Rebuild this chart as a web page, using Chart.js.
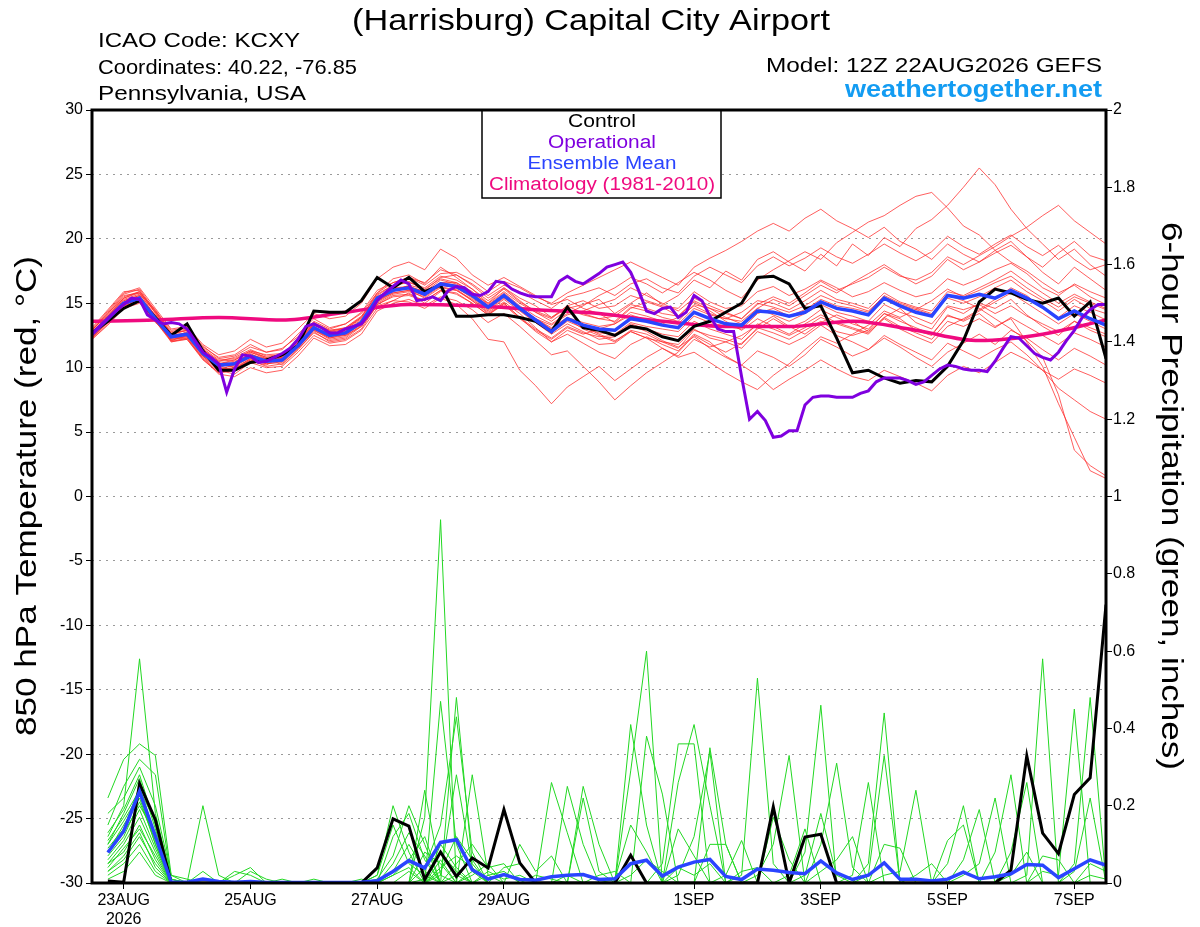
<!DOCTYPE html>
<html>
<head>
<meta charset="utf-8">
<title>KCXY GEFS</title>
<script src="https://cdn.jsdelivr.net/npm/chart.js@4.4.1/dist/chart.umd.min.js"></script>
<style>
  body { margin: 0; background: #fff; }
  #grafico { display: block; }
</style>
</head>
<body>
<canvas id="grafico" width="1200" height="927"></canvas>
<script>
// forecast hours from 12Z 22AUG2026 (6-hourly)
var hours6 = [0,6,12,18,24,30,36,42,48,54,60,66,72,78,84,90,96,102,108,114,120,126,132,138,144,150,156,162,168,174,180,186,192,198,204,210,216,222,228,234,240,246,252,258,264,270,276,282,288,294,300,306,312,318,324,330,336,342,348,354,360,366,372,378,384];
// operational run is 3-hourly
var opHours = [0,3,6,9,12,15,18,21,24,27,30,33,36,39,42,45,48,51,54,57,60,63,66,69,72,75,78,81,84,87,90,93,96,99,102,105,108,111,114,117,120,123,126,129,132,135,138,141,144,147,150,153,156,159,162,165,168,171,174,177,180,183,186,189,192,195,198,201,204,207,210,213,216,219,222,225,228,231,234,237,240,243,246,249,252,255,258,261,264,267,270,273,276,279,282,285,288,291,294,297,300,303,306,309,312,315,318,321,324,327,330,333,336,339,342,345,348,351,354,357,360,363,366,369,372,375,378,381,384];
var climHours = [0,24,48,72,96,120,144,168,192,216,240,264,288,312,336,360,384];

var tickHours = [12, 60, 108, 156, 228, 276, 324, 372];
var tickLabels = ['23AUG', '25AUG', '27AUG', '29AUG', '1SEP', '3SEP', '5SEP', '7SEP'];
var tickYear = '2026';

// 850 hPa temperature (C)
var controlTemp = [12.7,13.6,14.6,15.2,13.9, 12.5,13.4,11.3,9.8,9.8, 10.4,10.6,11.0,11.7,14.4, 14.3,14.3,15.2,17.0,16.2, 17.0,15.9,16.4,14.0,14.0, 14.1,14.1,13.9,13.6,12.8, 14.7,13.1,12.9,12.5,13.2, 13.0,12.4,12.1,13.2,13.6, 14.3,15.0,17.0,17.1,16.5, 14.6,14.8,12.3,9.6,9.8, 9.2,8.8,9.0,8.9,10.1, 12.1,15.1,16.1,15.8,15.3, 15.0,15.4,14.0,15.1,10.7];
var meanTemp = [12.6,13.8,15.0,15.4,13.8, 12.4,12.6,11.1,10.2,10.3, 10.9,10.5,10.6,11.7,13.1, 12.5,12.7,13.5,15.4,16.0, 16.2,15.7,16.5,16.3,15.6, 14.7,15.6,14.6,13.7,12.8, 13.8,13.3,13.0,12.9,13.8, 13.6,13.3,13.1,14.3,13.8, 13.4,13.3,14.4,14.3,14.0, 14.3,15.1,14.6,14.4,14.1, 15.4,14.8,14.3,14.0,15.6, 15.4,15.7,15.4,16.0,15.4, 14.7,13.8,14.4,13.8,13.3];
var opTemp = [12.6,13.2,13.8,14.4,14.9,15.4,15.3,14.1,13.7,13.4, 13.5,13.4,13.0,12.1,11.2,10.8,10.3,8.1,9.9,11.0, 10.9,10.4,10.5,10.8,11.1,11.5,12.2,13.2,13.4,13.1, 12.7,12.7,13.0,13.2,13.4,14.2,15.2,15.8,16.3,16.8, 16.5,15.2,15.3,15.5,15.2,16.0,16.3,16.2,15.7,15.6, 15.9,16.7,16.6,16.1,15.8,15.6,15.5,15.5,15.5,16.7, 17.1,16.7,16.5,16.9,17.3,17.8,18.0,18.2,17.4,16.0, 14.4,14.2,14.6,14.7,13.9,14.3,15.6,15.2,14.0,13.0, 12.8,12.8,9.3,6.0,6.6,5.9,4.6,4.7,5.1,5.1, 7.1,7.7,7.8,7.8,7.7,7.7,7.7,8.0,8.2,8.9, 9.2,9.2,9.2,9.0,8.7,8.9,9.4,9.9,10.2,10.1, 9.9,9.8,9.8,9.7,10.5,11.5,12.4,12.3,11.7,11.1, 10.8,10.6,11.2,12.1,12.9,13.9,14.5,14.9,14.9];
var climTemp = [13.6,13.7,13.9,13.7,14.3,14.9,14.8,14.5,14.2,13.6,13.2,13.2,13.6,12.9,12.1,12.6,13.7];

// ensemble members, temperature
var tempMembers = [
  [12.9,14.2,15.6,15.8,14.0, 12.0,12.2,10.6,9.6,9.8, 10.5,10.2,10.9,12.2,13.6, 13.0,13.4,14.2,15.8,16.9, 17.2,16.5,17.8,17.0,16.1, 15.0,16.2,15.4,14.8,13.9, 14.6,14.9,15.3,14.2,15.0, 15.8,14.9,15.6,16.8,16.2, 17.5,16.8,18.4,19.0,18.2, 17.5,18.8,17.9,19.6,18.7, 20.1,19.4,20.8,21.5,22.6, 24.0,25.5,24.2,22.3,20.8, 19.6,18.4,19.2,18.0,17.1],
  [12.4,13.5,14.8,15.2,13.5, 12.6,12.9,11.3,10.4,10.0, 11.2,10.8,10.2,11.4,12.8, 12.0,12.2,13.0,14.9,15.6, 15.7,15.2,16.0,15.8,15.0, 14.1,15.0,13.9,12.8,12.0, 12.9,12.4,11.8,11.9,12.8, 12.3,12.0,11.5,12.9,12.5, 12.2,11.8,13.1,12.7,12.2, 12.9,13.6,12.8,12.5,12.9, 14.2,13.8,12.9,12.5,14.1, 13.6,14.2,13.2,13.8,12.0, 10.1,7.2,4.6,2.0,1.4],
  [12.2,13.3,14.6,15.0,13.9, 12.8,13.0,11.7,10.7,10.9, 11.6,11.2,11.5,12.4,13.5, 12.6,12.5,13.2,14.8,15.2, 15.1,14.6,15.4,14.9,13.8, 12.2,12.0,9.8,8.6,7.2, 8.5,9.3,10.1,9.0,9.9, 10.8,11.5,10.9,12.2,11.6, 12.0,12.5,13.3,14.0,13.2, 12.6,13.5,14.1,13.6,12.8, 13.9,14.6,13.5,13.0,14.7, 14.2,15.0,14.6,15.3,14.1, 13.2,12.5,13.6,12.9,12.4],
  [13.0,14.4,15.8,16.2,14.6, 13.0,13.2,11.8,11.0,11.3, 12.2,11.6,11.9,13.0,14.2, 13.8,14.0,15.0,16.9,17.8, 18.2,17.6,19.2,18.5,17.2, 16.4,17.0,16.3,15.6,14.9, 15.3,14.6,14.2,13.5,14.6, 15.1,14.7,14.0,15.2,14.6, 13.9,13.4,14.6,15.3,14.8, 15.6,16.4,15.8,16.6,17.3, 18.0,17.2,16.5,17.1,18.4, 17.6,18.2,19.1,19.8,18.6, 17.4,16.5,17.8,16.9,16.0],
  [12.5,13.7,15.1,15.5,14.0, 12.2,12.4,10.9,9.8,9.5, 10.4,10.0,10.1,11.2,12.5, 11.9,12.1,12.9,14.6,15.2, 15.8,15.0,15.9,16.1,15.2, 14.3,15.1,14.2,13.1,12.0, 12.6,11.9,11.2,10.7,11.8, 12.4,11.8,11.3,12.6,12.0, 10.9,10.2,11.3,10.8,10.1, 11.0,12.2,11.6,10.9,11.4, 12.3,11.6,10.8,10.1,11.2, 11.9,12.6,11.8,12.9,12.3, 11.4,10.6,11.5,10.9,10.2],
  [12.8,14.0,15.3,15.7,14.3, 12.5,12.7,11.4,10.5,10.8, 11.4,10.9,11.0,12.0,13.3, 12.8,13.1,13.9,15.6,16.4, 16.7,16.0,17.0,17.2,16.5, 15.6,16.4,15.9,15.2,14.6, 15.5,15.8,16.2,15.6,16.5, 16.9,16.2,15.8,17.1,17.8, 17.2,16.6,17.9,18.6,17.9, 18.5,19.3,18.6,18.1,18.8, 19.6,18.9,18.3,19.0,20.2, 19.4,18.8,19.6,20.3,19.4, 18.7,19.5,18.4,17.6,18.0],
  [12.3,13.6,14.9,15.3,13.7, 12.1,12.5,11.0,10.1,10.4, 11.0,10.6,10.8,11.9,13.2, 12.4,12.6,13.4,15.2,15.9, 16.4,16.1,16.9,16.6,15.9, 14.9,15.8,14.8,14.0,13.4, 14.2,14.8,15.6,16.2,17.0, 16.5,15.8,16.6,17.4,16.8, 16.0,15.4,16.8,17.6,18.3, 19.0,18.4,19.7,20.5,21.3, 21.8,22.6,23.3,23.6,22.4, 21.0,20.3,19.1,18.2,17.5, 16.6,15.8,16.4,15.5,14.9],
  [12.6,13.9,15.2,15.6,13.9, 12.3,12.8,11.2,10.0,9.9, 10.6,10.3,10.4,11.5,12.9, 12.2,12.4,13.3,15.0,15.7, 15.9,15.5,16.3,16.0,15.3, 14.4,15.3,14.4,13.5,12.6, 13.4,12.8,12.2,12.4,13.3, 12.8,12.1,11.6,12.4,11.5, 10.8,10.2,9.4,8.3,9.1, 9.8,10.6,9.9,9.3,9.0, 9.8,9.3,8.8,8.2,9.4, 10.1,9.6,10.4,11.2,10.6, 9.8,9.1,9.9,9.4,8.8],
  [12.7,14.1,15.4,15.9,14.5, 12.7,12.9,11.5,10.6,10.7, 11.3,11.0,11.1,12.1,13.4, 12.9,13.0,13.8,15.5,16.2, 16.3,15.9,16.6,16.4,15.7, 14.8,15.7,14.7,13.8,13.0, 13.9,13.5,13.2,13.4,14.3, 14.0,13.6,13.4,14.6,14.1, 13.8,14.3,15.2,15.0,14.5, 15.2,16.0,15.3,15.0,14.6, 15.8,15.1,14.7,14.4,15.9, 15.6,16.2,16.8,17.5,16.6, 15.8,15.0,15.7,15.1,14.6],
  [12.5,13.8,15.0,15.3,13.6, 12.0,12.3,10.8,9.7,9.9, 10.7,10.4,10.6,11.8,13.0, 12.3,12.5,13.4,15.1,15.8, 16.0,15.6,16.4,16.2,15.5, 14.6,15.5,14.5,13.6,12.7, 13.6,13.1,12.7,12.6,13.5, 13.2,13.0,12.8,14.0,13.5, 13.2,13.0,14.2,14.6,14.0, 14.5,15.3,14.8,14.6,14.3, 15.6,15.0,14.6,14.2,15.6, 15.2,14.6,13.8,13.0,12.1, 10.8,7.9,3.6,2.4,1.6],
  [12.9,14.3,15.7,16.1,14.4, 12.6,12.6,11.2,10.3,10.6, 11.2,10.7,10.8,11.9,13.3, 12.7,13.0,13.9,15.8,16.6, 17.0,16.4,17.3,17.4,16.8, 15.9,16.7,16.2,15.5,15.0, 15.8,16.4,17.0,17.6,18.2, 17.6,17.0,16.4,17.8,18.5, 19.1,19.8,20.6,21.2,20.6, 21.6,22.3,21.4,20.8,20.1, 20.9,19.8,19.2,18.4,19.6, 18.8,18.2,18.9,19.5,18.6, 17.8,18.9,19.8,18.7,18.3],
  [12.2,13.4,14.7,15.1,13.6, 12.1,12.2,10.7,9.5,9.3, 10.0,9.6,9.8,10.9,12.3, 11.7,11.8,12.6,14.4,15.0, 15.3,14.8,15.5,15.2,14.5, 13.5,14.2,13.2,12.1,11.0, 11.3,10.1,8.9,7.5,8.6, 9.6,10.4,11.2,12.5,11.8, 11.2,11.9,13.0,13.8,13.1, 13.6,14.5,13.9,13.4,13.0, 14.2,13.6,13.1,12.6,14.0, 13.7,14.4,15.1,15.8,15.0, 14.2,13.4,14.2,13.6,13.0],
  [12.4,13.6,14.9,15.2,13.8, 12.4,12.6,11.1,10.2,10.1, 10.8,10.5,10.7,11.6,13.0, 12.5,12.8,13.6,15.3,16.0, 16.2,15.7,16.6,16.6,15.8, 15.0,15.9,15.0,14.3,13.6, 14.5,14.1,13.8,14.0,14.9, 14.6,14.2,14.0,15.1,14.4, 13.6,12.9,13.8,13.2,12.6, 13.4,14.1,13.5,13.1,12.7, 13.8,13.0,12.4,11.9,13.2, 13.8,14.5,15.3,16.2,15.6, 14.6,13.9,14.8,14.3,13.7],
  [13.1,14.5,15.9,16.0,14.2, 12.3,12.4,10.9,9.9,10.2, 10.9,10.6,10.9,12.0,13.4, 12.8,12.9,13.7,15.4,16.1, 16.3,15.8,16.5,16.2,15.4, 14.5,15.4,14.6,13.8,13.3, 14.1,14.4,14.9,15.3,16.2, 15.6,15.0,14.4,15.4,14.8, 14.3,13.8,14.9,15.5,15.0, 15.8,16.7,16.0,16.5,17.0, 17.8,17.1,16.8,17.4,18.6, 18.0,18.7,19.4,20.2,20.9, 21.8,22.6,21.4,20.5,19.6],
  [12.6,13.8,15.0,15.5,14.1, 12.5,12.6,11.0,10.0,10.4, 11.1,10.5,10.6,11.6,13.0, 12.4,12.7,13.5,15.3,16.0, 16.1,15.6,16.4,16.3,15.6, 14.7,15.6,14.5,13.5,12.8, 13.8,13.0,12.5,12.0,12.9, 12.6,12.0,11.8,13.0,12.3, 12.0,11.5,12.8,12.3,11.8, 12.4,13.3,12.5,12.0,11.4, 12.5,11.8,11.2,10.6,11.9, 11.3,10.7,11.4,12.0,11.0, 9.8,8.4,7.5,6.6,6.0],
  [12.8,14.0,15.4,15.8,14.4, 12.9,13.1,11.6,10.8,11.0, 11.8,11.2,11.4,12.6,13.8, 13.1,13.4,14.3,16.0,16.6, 17.0,16.6,17.6,17.2,16.4, 15.4,16.2,15.2,14.3,13.8, 14.8,15.2,14.6,14.8,15.6, 15.2,14.8,14.6,15.9,15.1, 14.6,14.8,15.9,16.3,15.6, 16.1,16.8,16.2,15.5,15.9, 16.6,16.0,15.5,15.8,16.9, 16.4,16.9,17.6,18.1,17.3, 16.2,15.6,16.5,15.9,15.4],
  [12.3,13.5,14.8,15.1,13.6, 12.2,12.3,10.7,9.6,9.8, 10.6,10.1,10.3,11.4,12.7, 12.1,12.3,13.2,14.9,15.5, 15.6,15.2,16.0,15.7,15.0, 14.1,14.9,13.8,12.9,12.2, 13.1,12.6,13.0,13.4,14.1, 13.7,13.4,13.9,14.8,14.2, 13.8,13.6,14.6,14.1,13.6, 14.2,14.9,14.3,14.0,13.6, 14.9,14.3,13.9,13.4,14.8, 14.5,14.9,14.2,14.8,14.0, 13.4,12.8,13.6,13.1,12.6],
  [12.7,14.0,15.2,15.6,14.0, 12.4,12.7,11.2,10.3,10.5, 11.0,10.7,10.7,11.8,13.1, 12.6,12.8,13.6,15.5,16.1, 16.3,15.9,16.8,16.5,15.8, 14.8,15.6,14.6,13.8,13.1, 13.9,13.2,12.6,12.1,12.8, 12.3,11.5,10.8,11.2,10.4, 9.6,8.9,8.3,9.4,10.3, 11.4,12.4,11.9,12.6,13.3, 14.4,13.9,14.5,15.2,16.1, 15.5,16.0,16.6,17.1,16.2, 15.4,14.7,15.5,15.0,14.5],
  [12.5,13.7,15.0,15.4,13.9, 12.3,12.5,11.0,9.9,10.0, 10.7,10.3,10.5,11.6,12.9, 12.3,12.6,13.4,15.2,15.8, 16.0,15.4,16.2,16.0,15.2, 14.2,15.0,13.9,13.0,12.3, 13.2,12.7,12.4,12.5,13.4, 13.0,12.6,12.4,13.6,13.0, 12.6,12.2,13.4,13.0,12.5, 13.1,13.9,13.4,13.0,12.6, 13.9,13.2,12.7,12.2,13.6, 13.2,13.8,13.1,13.9,13.2, 12.5,11.8,12.7,12.2,11.6],
  [12.9,14.2,15.5,15.9,14.3, 12.6,12.9,11.4,10.5,10.6, 11.3,10.8,11.0,12.1,13.5, 12.9,13.1,14.0,15.7,16.4, 16.6,16.2,17.1,16.8,16.1, 15.2,16.1,15.1,14.4,13.9, 14.8,14.2,13.8,13.6,14.7, 14.4,13.9,13.6,14.9,14.6, 14.2,13.8,15.0,14.7,14.3, 14.8,15.6,15.1,14.8,14.4, 15.5,14.9,14.5,14.1,15.4, 15.0,15.5,16.2,16.8,15.9, 15.2,14.4,15.3,14.6,14.2]
];

// 6-hour precipitation (inches), valid 6h..384h
var controlPrecip = [.005,.002,.257,.164,0,0,0,0, 0,0,0,0,0,0,0,0, 0,.039,.166,.147,.009,.080,.017,.065, .039,.190,.052,0,0,0,0,0, 0,.072,0,0,0,0,0,0, 0,0,.197,0,.119,.126,0,0, 0,0,0,0,0,0,0,0, 0,.033,.329,.129,.076,.229,.272,.72];
var meanPrecip = [.079,.134,.237,.121,.002,.002,.010,.004, .002,.004,.001,.001,.001,.001,.001,.001, .002,.006,.030,.058,.039,.105,.112,.034, .010,.022,.009,.007,.016,.020,.022,.009, .011,.050,.059,.018,.041,.054,.061,.017, .009,.036,.033,.027,.024,.057,.026,.009, .020,.052,.010,.010,.005,.010,.028,.011, .016,.024,.048,.046,.014,.037,.060,.046];

var precipMembers = [
  [.08,.15,.22,.10,0,0,0,0, 0,0,0,0,0,0,0,0, 0,0,.12,.18,.06,0,.02,0, 0,0,0,0,0,0,0,0, 0,.41,.15,0,0,0,0,0, 0,0,0,0,0,.10,.31,.04, 0,0,0,0,0,0,0,0, 0,0,0,0,0,.03,.22,0],
  [.12,.20,.58,.18,.01,0,0,0, 0,0,0,0,0,0,0,0, .01,0,.02,.04,0,0,.05,.10, .04,.05,0,0,0,0,0,0, 0,0,0,.05,.36,.36,0,0, 0,0,0,0,0,0,0,0, .02,.33,0,0,0,0,0,0, 0,0,0,0,0,0,0,0],
  [.05,.08,.15,.06,0,0,0,0, .02,.04,0,0,0,0,0,0, 0,0,0,0,.24,.02,0,0, 0,0,0,0,.26,.13,0,0, 0,0,0,0,0,0,0,.02, .11,0,0,0,0,0,0,0, 0,0,0,0,0,0,.02,.05, .22,0,0,0,0,0,0,0],
  [.22,.32,.36,.33,.02,.01,0,0, 0,0,0,0,0,0,0,0, 0,.02,.20,.08,0,0,0,.03, 0,0,0,0,0,0,.22,.03, 0,0,0,0,0,0,0,0, 0,0,0,.02,.14,0,0,0, 0,0,0,0,0,0,0,0, 0,0,0,.07,.06,0,0,0],
  [.03,.06,.12,.05,0,0,0,0, 0,0,0,0,0,.01,0,0, 0,0,0,0,.17,.94,0,0, 0,0,0,0,0,0,0,0, 0,.29,.60,0,0,0,0,0, 0,0,0,0,0,0,0,0, 0,.02,.03,.24,0,0,0,0, 0,0,0,0,0,0,0,0],
  [.10,.18,.27,.14,0,0,.20,.02, 0,0,0,0,0,0,0,0, 0,0,0,0,0,0,.48,.05, 0,0,0,0,0,0,0,0, 0,0,0,0,.26,.41,.20,0, 0,0,0,0,0,0,0,0, 0,0,0,0,0,.11,.15,0, 0,0,0,0,0,0,0,0],
  [.06,.11,.19,.09,0,0,0,0, 0,0,0,0,0,0,0,0, 0,0,0,0,0,.47,.10,0, 0,0,.10,.03,.07,0,0,0, 0,0,0,0,0,0,0,0, .02,.53,.05,0,0,0,0,0, 0,0,0,0,0,0,0,0, 0,.02,.08,0,0,0,0,0],
  [.15,.25,.32,.28,.01,0,0,0, 0,0,0,0,0,0,0,0, 0,.01,.07,.20,.10,0,0,0, 0,0,0,0,0,0,0,.02, .03,0,0,0,0,0,0,0, 0,0,0,0,.08,.46,0,0, 0,0,0,0,0,0,0,0, 0,0,0,0,0,0,.02,.01],
  [.02,.05,.10,.03,0,0,0,0, .03,.02,0,0,0,0,0,0, 0,0,0,0,.04,.15,.43,.08, 0,0,0,0,0,0,0,0, 0,0,.38,.23,0,0,0,0, 0,0,0,0,0,0,0,.02, .26,0,0,0,0,0,0,0, 0,0,0,.03,.02,.45,0,0],
  [.09,.14,.25,.12,0,0,0,0, 0,0,0,0,0,0,0,0, 0,0,0,.03,0,.06,0,.28, .02,0,0,0,0,0,0,0, 0,0,0,0,.14,.07,0,0, 0,0,0,0,0,0,0,0, 0,0,0,.02,.05,0,0,0, 0,0,0,0,0,0,0,0],
  [.18,.22,.30,.20,.02,0,.03,0, 0,0,0,0,0,0,0,0, 0,0,0,0,0,.02,.28,.04, 0,0,0,0,0,.25,.10,0, 0,0,0,0,0,0,0,0, 0,0,.17,.06,0,0,0,0, 0,0,0,0,0,0,0,0, 0,.08,.26,0,0,0,0,0],
  [.04,.09,.14,.07,0,0,0,0, 0,0,0,0,0,0,0,0, 0,.02,.15,.05,.02,0,0,0, 0,.04,.05,0,0,0,0,0, 0,0,0,0,0,0,.35,.10, 0,0,0,0,0,.03,.06,.12, 0,0,0,0,0,0,0,0, 0,0,0,0,0,0,0,0],
  [.07,.12,.21,.11,0,0,0,0, 0,.03,.01,0,0,0,0,0, 0,0,0,0,0,.10,.04,0, 0,0,0,0,0,0,0,0, .01,.15,.08,0,0,0,0,0, 0,0,0,0,0,0,0,0, .05,.44,0,0,0,0,0,0, 0,0,0,0,0,0,.05,.03],
  [.11,.17,.24,.16,.01,0,0,0, 0,0,0,0,0,0,0,0, 0,0,0,0,.08,.05,0,.02, .05,0,0,0,0,0,0,0, 0,0,0,0,.02,.12,.34,0, 0,0,0,0,0,0,0,0, 0,0,0,0,0,.05,.20,0, 0,0,0,0,0,0,0,0],
  [.01,.03,.08,.02,0,0,0,0, 0,0,0,0,0,0,0,0, 0,0,.03,.10,.03,0,0,0, 0,0,0,.02,.01,0,0,0, 0,0,0,0,0,0,0,0, 0,.02,.10,.33,0,0,0,0, 0,0,0,0,0,0,0,0, 0,0,0,0,0,0,0,0],
  [.13,.19,.28,.15,0,0,0,0, 0,0,0,.01,0,0,0,0, 0,0,0,0,0,.03,.12,.06, 0,0,0,0,0,0,.25,.10, 0,0,0,0,0,0,0,0, 0,0,0,0,.02,.18,.02,0, 0,0,0,0,0,0,0,0, 0,0,0,0,0,.05,.48,0],
  [.05,.10,.17,.08,0,0,0,0, 0,0,0,0,0,0,0,0, 0,0,.05,.13,.07,0,0,0, .02,.03,0,0,0,0,0,0, 0,0,0,0,0,0,.10,.10, 0,0,0,0,0,0,0,0, 0,.10,.09,0,0,0,0,0, 0,0,0,0,0,0,0,0],
  [.08,.13,.20,.13,0,0,0,0, 0,0,0,0,0,0,0,0, 0,0,0,0,.01,.08,.03,0, 0,0,0,0,0,0,0,0, 0,.02,.06,.03,0,0,0,0, 0,0,0,0,0,0,0,0, 0,0,0,0,0,0,.06,.19, 0,0,0,0,0,0,0,0],
  [.03,.07,.13,.04,0,0,0,0, 0,0,0,0,0,0,0,0, 0,0,.02,.06,.12,0,0,0, .03,.01,.02,0,0,0,0,0, 0,0,0,0,0,0,0,0, .03,.04,0,0,0,0,0,0, 0,0,0,0,0,0,0,0, 0,0,.02,.58,0,0,0,0],
  [.10,.16,.23,.10,0,0,0,0, 0,0,0,0,0,0,0,0, 0,0,0,0,0,.04,.07,.04, 0,0,0,0,0,.02,0,0, 0,0,0,0,.04,.02,.05,0, 0,0,0,0,0,0,0,0, 0,0,0,0,0,0,0,0, .08,.28,0,0,0,0,0,0]
];

var corTemp = 'rgba(255, 40, 40, 0.75)';
var corChuva = '#22d822';
var corControle = '#000000';
var corOperacional = '#7f00df';
var corMedia = '#2a44ff';
var corClima = '#ef0a7f';
var fonte = "'Liberation Sans', Arial, Helvetica, sans-serif";

function pontos(xs, ys) {
    var lista = [];
    for (var i = 0; i < ys.length; i++) {
        lista.push({ x: xs[i], y: ys[i] });
    }
    return lista;
}

var precipHours = hours6.slice(1);
var datasets = [];

// lowest order is drawn on top
datasets.push({ label: 'Operational', data: pontos(opHours, opTemp), yAxisID: 'y', borderColor: corOperacional, borderWidth: 3, order: 0 });
datasets.push({ label: 'Ensemble Mean', data: pontos(hours6, meanTemp), yAxisID: 'y', borderColor: corMedia, borderWidth: 3.5, order: 1 });
datasets.push({ label: 'Control', data: pontos(hours6, controlTemp), yAxisID: 'y', borderColor: corControle, borderWidth: 3, order: 2 });
datasets.push({ label: 'Climatology', data: pontos(climHours, climTemp), yAxisID: 'y', borderColor: corClima, borderWidth: 3.5, cubicInterpolationMode: 'monotone', order: 3 });
datasets.push({ label: 'Mean precip', data: pontos(precipHours, meanPrecip), yAxisID: 'y1', borderColor: corMedia, borderWidth: 3.5, order: 4 });
datasets.push({ label: 'Control precip', data: pontos(precipHours, controlPrecip), yAxisID: 'y1', borderColor: corControle, borderWidth: 3, order: 5 });

for (var m = 0; m < precipMembers.length; m++) {
    datasets.push({ label: 'p' + (m + 1), data: pontos(precipHours, precipMembers[m]), yAxisID: 'y1', borderColor: corChuva, borderWidth: 1, order: 6 });
}
for (var m = 0; m < tempMembers.length; m++) {
    datasets.push({ label: 't' + (m + 1), data: pontos(hours6, tempMembers[m]), yAxisID: 'y', borderColor: corTemp, borderWidth: 1, order: 7 });
}

// draws text squeezed/stretched to a given width (the original uses wide lettering)
function textoLargo(ctx, texto, x, y, tamanho, negrito, cor, largura, alinhamento, angulo) {
    ctx.save();
    ctx.font = (negrito ? 'bold ' : '') + tamanho + 'px ' + fonte;
    ctx.fillStyle = cor;
    ctx.textAlign = 'left';
    ctx.textBaseline = angulo ? 'middle' : 'alphabetic';
    var w = ctx.measureText(texto).width;
    ctx.translate(x, y);
    if (angulo) ctx.rotate(angulo);
    ctx.scale(largura / w, 1);
    var x0 = 0;
    if (alinhamento == 'center') x0 = -w / 2;
    if (alinhamento == 'right') x0 = -w;
    ctx.fillText(texto, x0, 0);
    ctx.restore();
}

var moldura = {
    id: 'moldura',
    afterDatasetsDraw: function (chart) {
        var ctx = chart.ctx;
        var a = chart.chartArea;

        // legend box
        ctx.save();
        ctx.fillStyle = '#fff';
        ctx.fillRect(482, 110, 239, 88);
        ctx.strokeStyle = '#000';
        ctx.lineWidth = 1.5;
        ctx.strokeRect(482, 110, 239, 88);
        ctx.restore();
        textoLargo(ctx, 'Control', 602, 127, 18, false, corControle, 68, 'center');
        textoLargo(ctx, 'Operational', 602, 148, 18, false, corOperacional, 108, 'center');
        textoLargo(ctx, 'Ensemble Mean', 602, 169, 18, false, corMedia, 149, 'center');
        textoLargo(ctx, 'Climatology (1981-2010)', 602, 190, 18, false, corClima, 226, 'center');

        ctx.save();
        ctx.strokeStyle = '#000';
        ctx.lineWidth = 3;
        ctx.strokeRect(a.left, a.top, a.right - a.left, a.bottom - a.top);
        ctx.restore();
    },
    afterDraw: function (chart) {
        var ctx = chart.ctx;
        textoLargo(ctx, '(Harrisburg) Capital City Airport', 591, 30, 29, false, '#000', 478, 'center');
        textoLargo(ctx, 'ICAO Code: KCXY', 98, 47, 21, false, '#000', 202, 'left');
        textoLargo(ctx, 'Coordinates: 40.22, -76.85', 98, 74, 21, false, '#000', 259, 'left');
        textoLargo(ctx, 'Pennsylvania, USA', 98, 100, 21, false, '#000', 208, 'left');
        textoLargo(ctx, 'Model: 12Z 22AUG2026 GEFS', 1102, 72, 21, false, '#000', 336, 'right');
        textoLargo(ctx, 'weathertogether.net', 1102, 97, 24, true, '#139cf2', 257, 'right');
        textoLargo(ctx, '850 hPa Temperature (red, \u00B0C)', 28, 496, 29, false, '#000', 480, 'center', -Math.PI / 2);
        textoLargo(ctx, '6-hour Precipitation (green, inches)', 1170, 496, 29, false, '#000', 548, 'center', Math.PI / 2);
    }
};

Chart.defaults.font.family = fonte;
Chart.defaults.color = '#000';

var grafico = new Chart(document.getElementById('grafico').getContext('2d'), {
    type: 'line',
    data: { datasets: datasets },
    options: {
        responsive: false,
        animation: false,
        devicePixelRatio: 1,
        layout: { padding: { top: 110, left: 0, right: 0, bottom: 0 } },
        elements: {
            point: { radius: 0 },
            line: { tension: 0, fill: false, borderJoinStyle: 'miter' }
        },
        plugins: {
            legend: { display: false },
            tooltip: { enabled: false },
            title: { display: false }
        },
        scales: {
            x: {
                type: 'linear',
                min: 0,
                max: 384,
                afterFit: function (s) { s.height = 44; },
                afterBuildTicks: function (s) {
                    s.ticks = tickHours.map(function (h) { return { value: h }; });
                },
                border: { display: false },
                grid: { drawOnChartArea: false, drawTicks: true, tickLength: 6, tickColor: '#000', tickWidth: 1 },
                ticks: {
                    autoSkip: false,
                    maxRotation: 0,
                    padding: 2,
                    font: { size: 16 },
                    color: '#000',
                    callback: function (v) {
                        var k = tickHours.indexOf(v);
                        if (k == 0) return [tickLabels[0], tickYear];
                        return tickLabels[k];
                    }
                }
            },
            y: {
                position: 'left',
                min: -30,
                max: 30,
                afterFit: function (s) { s.width = 92; },
                border: { display: false, dash: [2, 5] },
                grid: { color: '#9a9a9a', lineWidth: 1, tickLength: 6, tickColor: '#000', tickWidth: 1 },
                ticks: { stepSize: 5, padding: 3, font: { size: 16 }, color: '#000' }
            },
            y1: {
                position: 'right',
                min: 0,
                max: 2,
                afterFit: function (s) { s.width = 94; },
                border: { display: false },
                grid: { drawOnChartArea: false, tickLength: 6, tickColor: '#000', tickWidth: 1 },
                ticks: {
                    stepSize: 0.2,
                    padding: 1,
                    font: { size: 16 },
                    color: '#000',
                    callback: function (v) { return String(Number(v.toFixed(1))); }
                }
            }
        }
    },
    plugins: [moldura]
});
</script>
</body>
</html>
